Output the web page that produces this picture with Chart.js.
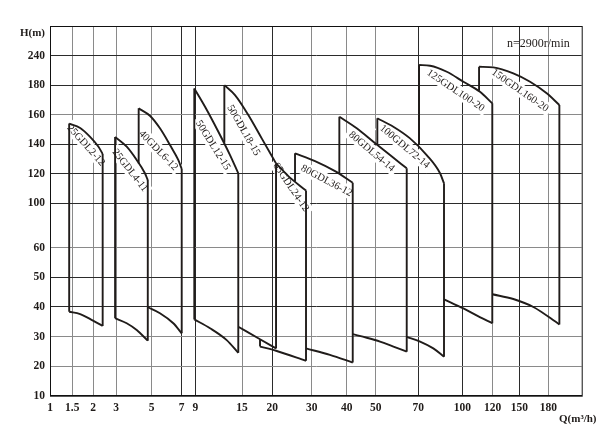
<!DOCTYPE html>
<html>
<head>
<meta charset="utf-8">
<title>GDL pump performance chart</title>
<script src="https://cdn.jsdelivr.net/npm/chart.js@4.4.1/dist/chart.umd.min.js"></script>
<style>
  html, body { margin: 0; padding: 0; background: #fff; }
  canvas { display: block; }
</style>
</head>
<body>
<canvas id="pumpChart" width="616" height="434"></canvas>
<script>
// axis ticks
const Q_TICKS = [1, 1.5, 2, 3, 5, 7, 9, 15, 20, 30, 40, 50, 70, 100, 120, 150, 180];
const H_TICKS = [10, 20, 30, 40, 50, 60, 100, 120, 140, 160, 180, 240];

const PUMP_NAMES = [
  "25GDL2-12", "25GDL4-11", "40GDL6-12", "50GDL12-15", "50GDL18-15", "65GDL24-12",
  "80GDL36-12", "80GDL54-14", "100GDL72-14", "125GDL100-20", "150GDL160-20",
];

// upper curve of each pump, [Q m3/h, H m]
const TOP_CURVES = [
  [[1.43, 154], [1.69, 151], [1.93, 145], [2.23, 138.5], [2.42, 133.5]],
  [[2.96, 145], [3.6, 138.4], [4.16, 129.4], [4.62, 120.4], [4.78, 115.8]],
  [[4.27, 164.3], [4.9, 159.3], [5.55, 150.8], [6.22, 139.5], [6.77, 129.4], [7.0, 123.3]],
  [[8.85, 177.8], [10.25, 165.4], [11.96, 148.5], [13.46, 132.7], [14.52, 120.4]],
  [[12.73, 180], [14.1, 173.3], [16.04, 159.8], [18.25, 144], [20.94, 127.1]],
  [[20.94, 127.1], [24.06, 118.5], [28.55, 108.7]],
  [[25.76, 133.9], [30.94, 128.7], [36.66, 121.9], [42.07, 114]],
  [[37.89, 158.6], [43.45, 150.8], [49.17, 141.7], [56.71, 132.7], [64.55, 123.8]],
  [[50.75, 157.6], [58.26, 151.9], [66.1, 144], [75.7, 132.7], [84.8, 120.4], [87.5, 113.6]],
  [[70.5, 220.8], [78, 219.4], [89.4, 207.2], [100.7, 186.9], [111.6, 175.5], [119.7, 167.7]],
  [[111, 217.3], [120.7, 216.1], [143.2, 204], [161.1, 186.9], [178.3, 174.5], [191.4, 166.6]],
];

// lower curve of each pump (visible part)
const BOTTOM_CURVES = [
  [[1.43, 38.4], [1.69, 37.6], [2.0, 35.4], [2.42, 33.6]],
  [[2.96, 36.2], [3.6, 34.5], [4.16, 32.2], [4.78, 28.6]],
  [[4.78, 39.9], [5.55, 37.9], [6.44, 34.5], [7.0, 31.1]],
  [[8.85, 35.8], [10.89, 32.8], [13.03, 28.8], [14.52, 24.5]],
  [[14.52, 33.3], [17.97, 29.1], [20.94, 26.0]],
  [[17.97, 26.6], [20.94, 25.2], [28.55, 21.8]],
  [[28.55, 26], [35.2, 23.8], [42.07, 21.2]],
  [[42.07, 30.8], [46.9, 29.6], [52, 28.3], [58.3, 26.6], [64.55, 24.9]],
  [[64.55, 29.9], [71.2, 28.3], [80.2, 26], [87.5, 23.2]],
  [[87.5, 42.6], [100.7, 39.5], [110.3, 36.9], [119.7, 34.5]],
  [[119.7, 44.3], [143.2, 42.7], [164.5, 40], [191.4, 34.1]],
];

// visible left edge of each pump: [Q, H low, H high]
const LEFT_EDGES = [
  [1.43, 38.4, 154], [2.96, 36.2, 145], [4.27, 127, 164.3], [8.85, 35.8, 177.8],
  [12.73, 141, 180], [17.97, 26.6, 29.1], [25.76, 114.8, 133.9], [37.89, 120.1, 158.6],
  [50.75, 139.8, 157.6], [70.5, 139.5, 220.8], [111, 176.2, 217.3],
];

// where the model names sit: [Q, H, angle deg]
const LABEL_SPOTS = [
  [1.84, 139.5, 48], [3.8, 122.5, 52], [5.46, 136, 46], [11.3, 139.5, 58],
  [15.3, 149.6, 60], [24.8, 111.2, 56], [34.3, 115.6, 28], [48.7, 135.3, 40],
  [63.7, 138.6, 40], [95.6, 176.6, 34], [150.9, 176.6, 35],
];

const INK = "#201c1a";
const SERIF = '"Liberation Serif", "Times New Roman", serif';
const DARK_Q = [7, 9, 20, 70, 100, 150];
const DARK_H = [40, 50, 100, 120, 140, 180, 240];

// the paper axes are hand spaced, so each axis maps tick values to its own spacing
const AXIS_MAP = {
  x: { values: Q_TICKS, units: [0, 22.3, 43, 66, 101.7, 131.7, 145.3, 192, 222.3, 261.7, 296.7, 325.7, 368.3, 412.3, 442.7, 469.3, 498.3] },
  y: { values: H_TICKS, units: [0, 1, 2, 3, 4, 5, 6.5, 7.5, 8.5, 9.5, 10.5, 11.5] },
};

function segmentIndex(list, v) {
  const n = list.length;
  if (v <= list[0]) return 0;
  if (v >= list[n - 1]) return n - 2;
  let i = 0;
  while (v > list[i + 1]) i++;
  return i;
}

function toUnit(map, v) {
  const i = segmentIndex(map.values, v);
  const { values: vs, units: us } = map;
  return us[i] + (v - vs[i]) * (us[i + 1] - us[i]) / (vs[i + 1] - vs[i]);
}

function fromUnit(map, u) {
  const i = segmentIndex(map.units, u);
  const { values: vs, units: us } = map;
  return vs[i] + (u - us[i]) * (vs[i + 1] - vs[i]) / (us[i + 1] - us[i]);
}

class BrokenScale extends Chart.LinearScale {
  static id = "broken";
  static defaults = {};

  determineDataLimits() {
    this.min = this.options.min;
    this.max = this.options.max;
  }

  buildTicks() {
    this.start = this.min;
    this.end = this.max;
    return AXIS_MAP[this.axis].values.map((v) => ({ value: v }));
  }

  getPixelForValue(value) {
    if (value === null || value === undefined || isNaN(value)) return NaN;
    const map = AXIS_MAP[this.axis];
    const a = toUnit(map, this.min);
    const b = toUnit(map, this.max);
    return this.getPixelForDecimal((toUnit(map, value) - a) / (b - a));
  }

  getValueForPixel(pixel) {
    const map = AXIS_MAP[this.axis];
    const a = toUnit(map, this.min);
    const b = toUnit(map, this.max);
    return fromUnit(map, a + this.getDecimalForPixel(pixel) * (b - a));
  }
}
Chart.register(BrokenScale);

function line(points, smooth) {
  return {
    data: points.map(([x, y]) => ({ x, y })),
    borderColor: INK,
    borderWidth: 1.9,
    pointRadius: 0,
    fill: false,
    tension: smooth ? 0.4 : 0,
    cubicInterpolationMode: smooth ? "monotone" : "default",
  };
}

const datasets = [];
PUMP_NAMES.forEach((name, i) => {
  const top = TOP_CURVES[i];
  const bottom = BOTTOM_CURVES[i];
  const [ql, lo, hi] = LEFT_EDGES[i];
  const tEnd = top[top.length - 1];
  const bEnd = bottom[bottom.length - 1];
  datasets.push(line(top, true));
  datasets.push(line(bottom, true));
  datasets.push(line([[ql, lo], [ql, hi], [tEnd[0], null], [tEnd[0], tEnd[1]], [tEnd[0], bEnd[1]]], false));
});

const textPlugin = {
  id: "pumpText",
  beforeDatasetsDraw(chart) {
    const { ctx, scales } = chart;
    ctx.save();
    ctx.font = "10.5px " + SERIF;
    ctx.textAlign = "center";
    ctx.textBaseline = "middle";
    PUMP_NAMES.forEach((name, i) => {
      const [q, h, deg] = LABEL_SPOTS[i];
      const w = ctx.measureText(name).width;
      ctx.save();
      ctx.translate(scales.x.getPixelForValue(q), scales.y.getPixelForValue(h));
      ctx.rotate((deg * Math.PI) / 180);
      ctx.fillStyle = "#fff";
      ctx.fillRect(-w / 2 - 3, -6.5, w + 6, 13);
      ctx.fillStyle = INK;
      ctx.fillText(name, 0, 0.5);
      ctx.restore();
    });
    ctx.restore();
  },
  afterDraw(chart) {
    const { ctx, chartArea: a } = chart;
    ctx.save();
    ctx.strokeStyle = "#111";
    ctx.lineWidth = 1;
    ctx.strokeRect(a.left + 0.5, a.top + 0.5, a.right - a.left, a.bottom - a.top);
    ctx.fillStyle = INK;
    ctx.textBaseline = "middle";
    ctx.font = "12px " + SERIF;
    ctx.textAlign = "left";
    ctx.fillText("n=2900r/min", 507, 43.5);
    ctx.font = "bold 11px " + SERIF;
    ctx.textAlign = "right";
    ctx.fillText("H(m)", 45, 33.5);
    ctx.textAlign = "left";
    ctx.fillText("Q(m³/h)", 559, 419);
    ctx.restore();
  },
};

new Chart(document.getElementById("pumpChart"), {
  type: "line",
  data: { datasets },
  plugins: [textPlugin],
  options: {
    responsive: false,
    animation: false,
    events: [],
    devicePixelRatio: 1,
    layout: { padding: { top: 26, right: 34.3, left: 0, bottom: 0 } },
    plugins: { legend: { display: false }, tooltip: { enabled: false } },
    scales: {
      x: {
        type: "broken",
        position: "bottom",
        min: 1,
        max: 214.5,
        afterFit(scale) { scale.height = 38.3; },
        grid: {
          drawTicks: false,
          color: (c) => (c.tick && DARK_Q.includes(c.tick.value) ? "#2b2b2b" : "#8a8a8a"),
          lineWidth: 1,
        },
        border: { color: "#111", width: 1 },
        ticks: {
          autoSkip: false,
          maxRotation: 0,
          padding: 5,
          color: INK,
          font: { family: SERIF, size: 11.5, weight: "bold" },
          callback: (v) => String(v),
        },
      },
      y: {
        type: "broken",
        position: "left",
        min: 10,
        max: 300,
        afterFit(scale) { scale.width = 50; },
        grid: {
          drawTicks: false,
          color: (c) => (c.tick && DARK_H.includes(c.tick.value) ? "#2b2b2b" : "#8a8a8a"),
          lineWidth: 1,
        },
        border: { color: "#111", width: 1 },
        ticks: {
          autoSkip: false,
          padding: 5,
          color: INK,
          font: { family: SERIF, size: 11.5, weight: "bold" },
          callback: (v) => String(v),
        },
      },
    },
  },
});
</script>
</body>
</html>
